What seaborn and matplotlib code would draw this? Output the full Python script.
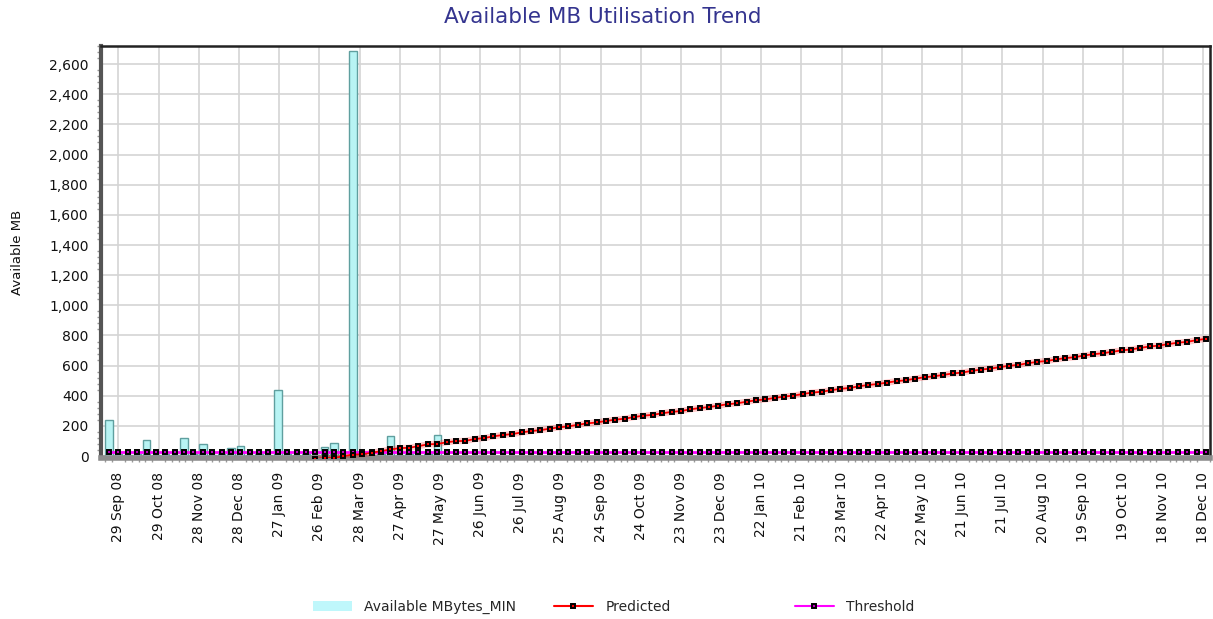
import pandas as pd
import seaborn as sns
import matplotlib.pyplot as plt
import matplotlib.dates as mdates
from matplotlib.ticker import MultipleLocator, FuncFormatter
from matplotlib.lines import Line2D
from matplotlib.patches import Patch

# semanas (uma amostra por semana)
primeira_semana = "2008-09-22"
n_semanas = 118

# Available MBytes_MIN (historico, semanas 0..35)
disponivel_min = [240, 12, 10, 12, 105, 10, 12, 10, 117, 12, 79, 10,
                  12, 51, 66, 10, 12, 10, 440, 12, 10, 12, 10, 62,
                  90, 10, 2690, 12, 10, 12, 132, 10, 12, 10, 12, 143]

# Predicted (semanas 22..117)
inicio_previsto = 22
previsto = [-20, -13, -13, 0, 10, 12, 22, 33, 44, 53, 55, 66, 78, 80,
            92, 99, 101, 113, 120, 131, 140, 146, 157, 166, 172, 182,
            191, 197, 208, 217, 223, 233, 242, 248, 259, 268, 274, 284,
            293, 299, 310, 319, 325, 335, 344, 350, 361, 370, 376, 386,
            395, 401, 412, 421, 427, 437, 446, 452, 463, 472, 478, 488,
            497, 503, 514, 523, 529, 539, 548, 554, 565, 574, 580, 590,
            599, 605, 616, 625, 631, 641, 650, 656, 667, 676, 682, 692,
            701, 707, 718, 727, 733, 743, 752, 758, 769, 778]

# Threshold (constante)
limite = 25

datas = pd.date_range(primeira_semana, periods=n_semanas, freq="7D")
df_hist = pd.DataFrame({"Data": datas[:len(disponivel_min)], "MB": disponivel_min})
df_prev = pd.DataFrame({"Data": datas[inicio_previsto:inicio_previsto + len(previsto)], "MB": previsto})
df_lim = pd.DataFrame({"Data": datas, "MB": [limite] * n_semanas})

sns.set_theme(style="white")
plt.rcParams["font.family"] = ["DejaVu Sans"]

fig = plt.figure(figsize=(12.13, 6.19), dpi=100)
ax = fig.add_axes([0.0833, 0.26, 0.9142, 0.6657])

cor_barra = "#b8f4f4"
ax.bar(df_hist["Data"], df_hist["MB"], width=5.5, color=cor_barra,
       edgecolor="#5f9f9f", linewidth=1.0, zorder=2)

# brilho da linha prevista
sns.lineplot(data=df_prev, x="Data", y="MB", ax=ax, color="red", lw=4.5,
             alpha=0.22, zorder=3)
sns.lineplot(data=df_lim, x="Data", y="MB", ax=ax, color="#ff00ff", lw=2,
             marker="s", markersize=3.5, markerfacecolor="#c000c0",
             markeredgecolor="black", markeredgewidth=1.4, zorder=4)
sns.lineplot(data=df_prev, x="Data", y="MB", ax=ax, color="red", lw=1.3,
             marker="s", markersize=3.5, markerfacecolor="red",
             markeredgecolor="black", markeredgewidth=1.4, zorder=5)

# eixos
ax.set_xlim(pd.Timestamp("2008-09-16"), pd.Timestamp("2010-12-22"))
ax.set_ylim(-13, 2720)

ticks_x = pd.date_range("2008-09-29", "2010-12-18", freq="30D")
ax.set_xticks(ticks_x)
ax.set_xticks(pd.date_range("2008-09-19", "2010-12-23", freq="5D"), minor=True)
ax.xaxis.set_major_formatter(mdates.DateFormatter("%d %b %y"))
ax.yaxis.set_major_locator(MultipleLocator(200))
ax.yaxis.set_minor_locator(MultipleLocator(40))
ax.yaxis.set_major_formatter(FuncFormatter(lambda v, p: f"{int(v):,}"))

ax.tick_params(axis="x", which="major", rotation=90, labelsize=10,
               length=6, width=1.2, color="#777777", labelcolor="#111111", pad=4)
ax.tick_params(axis="y", which="major", labelsize=10, length=6, width=1.2,
               color="#777777", labelcolor="#111111", pad=3)
ax.tick_params(which="minor", length=3, width=1, color="#999999")
ax.tick_params(axis="x", which="minor", bottom=True)
ax.tick_params(axis="y", which="minor", left=True)

ax.grid(True, which="major", color="#d4d4d4", linewidth=1.2)
ax.set_axisbelow(True)

for lado in ["top", "right"]:
    ax.spines[lado].set_color("#222222")
    ax.spines[lado].set_linewidth(1.8)
ax.spines["left"].set_color("#555555")
ax.spines["left"].set_linewidth(3)
ax.spines["bottom"].set_color("#8c8c8c")
ax.spines["bottom"].set_linewidth(4)

ax.set_xlabel("")
ax.set_ylabel("Available MB", fontsize=9.5, color="#111111", labelpad=18)
fig.text(0.497, 0.972, "Available MB Utilisation Trend", ha="center",
         va="center", fontsize=15.5, color="#34348f")

# legendas separadas, como no original
itens = [
    (Patch(facecolor="#bff7fb", edgecolor="none"), "Available MBytes_MIN", 313),
    (Line2D([], [], color="red", lw=1.5, marker="s", markersize=3.5,
            markerfacecolor="red", markeredgecolor="black", markeredgewidth=1.4),
     "Predicted", 554),
    (Line2D([], [], color="#ff00ff", lw=1.5, marker="s", markersize=3.5,
            markerfacecolor="#c000c0", markeredgecolor="black", markeredgewidth=1.4),
     "Threshold", 795),
]
for handle, rotulo, px in itens:
    fig.legend(handles=[handle], labels=[rotulo], loc="center left",
               bbox_to_anchor=(px / 1213, 1 - 607 / 619), frameon=False,
               borderpad=0, borderaxespad=0, handlelength=2.8,
               handletextpad=0.9, fontsize=10, numpoints=1)

fig.savefig("out.png", dpi=100, facecolor="white")
